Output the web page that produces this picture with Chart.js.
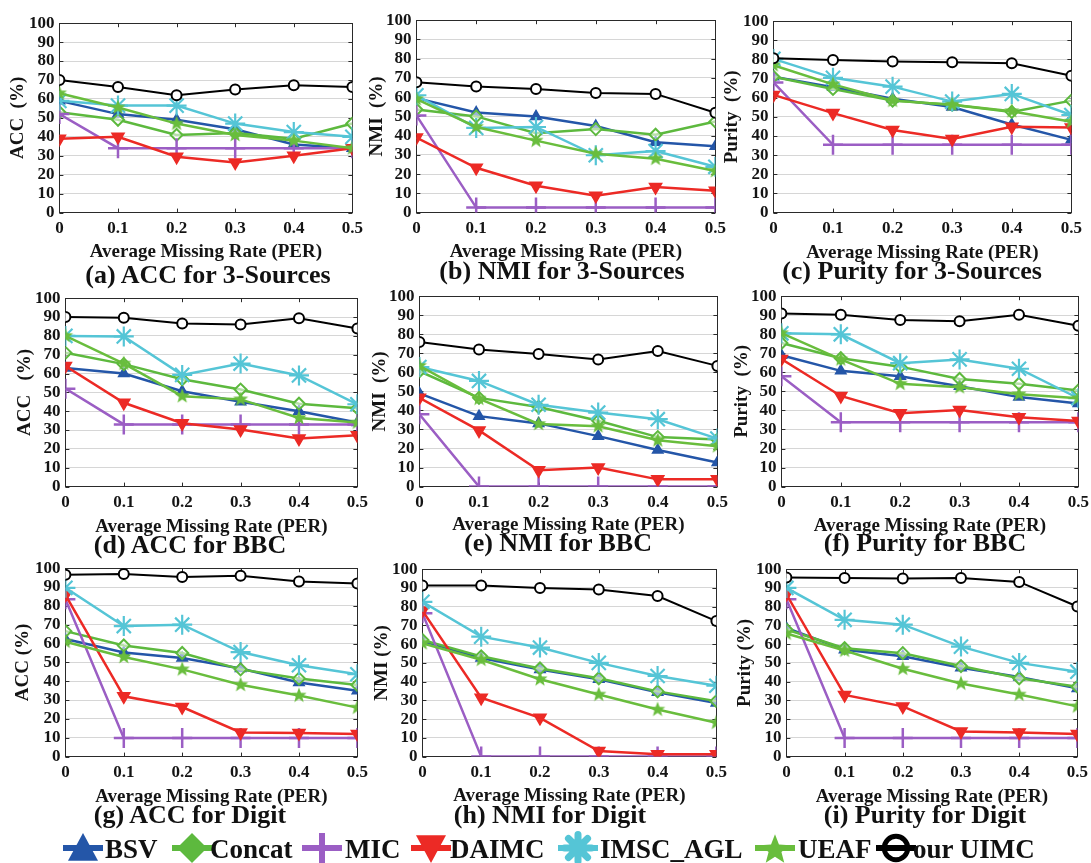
<!DOCTYPE html>
<html><head><meta charset="utf-8">
<script src="https://cdn.jsdelivr.net/npm/chart.js@4.4.1/dist/chart.umd.min.js"></script>
<style>
html,body{margin:0;padding:0;background:#fff;}
body{width:1091px;height:863px;overflow:hidden;position:relative;font-family:"Liberation Serif","Times New Roman",serif;}
canvas.cv{position:absolute;}
.cap{position:absolute;font-weight:bold;font-size:26px;transform:translate(-50%,-50%);white-space:nowrap;color:#111;line-height:1;}
.lg-ic{position:absolute;}
.lg-tx{position:absolute;font-weight:bold;font-size:27px;line-height:1;color:#111;white-space:nowrap;}
</style></head><body>
<script>
// ---------------- DATA ----------------
const rates = [0, 0.1, 0.2, 0.3, 0.4, 0.5];
const xTickLabels = ['0', '0.1', '0.2', '0.3', '0.4', '0.5'];
const methods = ['BSV', 'Concat', 'MIC', 'DAIMC', 'IMSC_AGL', 'UEAF', 'our UIMC'];

// rows in method order: BSV, Concat, MIC, DAIMC, IMSC_AGL, UEAF, our UIMC
const acc_3Sources = [
  [59, 52, 49, 44, 36, 34],
  [53, 49, 41, 42, 39, 47],
  [52, 34, 34, 34, 34, 34],
  [39, 40, 29.5, 26.5, 30, 34],
  [59, 56.5, 56.5, 47, 42.5, 40],
  [63, 55.5, 47, 41, 38, 34],
  [70, 66.3, 62, 65, 67.3, 66.3]
];
const nmi_3Sources = [
  [59.5, 52, 50, 45, 36.6, 34.5],
  [53.6, 50, 41.3, 43.4, 40.5, 47.3],
  [50.5, 2.6, 2.6, 2.6, 2.6, 2.6],
  [39, 23.3, 14, 8.8, 13.3, 11.4],
  [61, 44, 44.5, 29.8, 32, 23.8],
  [59, 44.5, 37.4, 30.6, 28, 21.6],
  [67.7, 65.5, 64.3, 62.2, 61.7, 51.9]
];
const purity_3Sources = [
  [71, 65.5, 59.5, 55.2, 46, 38],
  [71, 64.6, 58.5, 56.4, 52.6, 58.5],
  [68, 35.4, 35.4, 35.4, 35.4, 35.4],
  [61.5, 52, 43.2, 38.5, 44.8, 44.4],
  [80.3, 70.4, 65.8, 58, 62, 51],
  [77, 67, 58.5, 56.4, 53, 47.5],
  [80.7, 79.7, 79, 78.6, 78, 71.5]
];
const acc_BBC = [
  [63, 60, 50.6, 45, 40, 34],
  [71, 65, 57, 51.5, 44, 41.6],
  [52, 33, 33, 33, 33, 33],
  [64, 44.5, 33.6, 30.3, 25.5, 27.2],
  [80, 79.7, 59.3, 65.3, 59, 43.7],
  [80, 65.3, 48, 46.3, 36.4, 34],
  [90, 89.6, 86.6, 86, 89.4, 83.9]
];
const nmi_BBC = [
  [49, 37, 33.2, 26.5, 19.2, 12.7],
  [60.6, 46.6, 41.8, 34.6, 26, 24.7],
  [38, 0, 0, 0, 0, 0],
  [46.6, 29.5, 8.6, 10, 3.8, 3.8],
  [62.8, 55.5, 43, 38.9, 35.4, 25.2],
  [63.4, 46.2, 32.9, 31.7, 24.3, 21.2],
  [76, 72, 69.7, 66.8, 71.2, 63.4]
];
const purity_BBC = [
  [69, 60.8, 57.9, 52.7, 47, 43.6],
  [75.4, 67.4, 63, 56.5, 54, 50.5],
  [58, 33.8, 33.8, 33.8, 33.8, 33.8],
  [67, 47.6, 38.5, 40.2, 36.4, 34.4],
  [80.5, 80, 64.8, 66.8, 61.9, 46.4],
  [80.6, 66.8, 54, 52.2, 48.5, 46.4],
  [90.9, 90.2, 87.5, 86.8, 90.2, 84.5]
];
const acc_Digit = [
  [62.4, 55.3, 52.3, 46.8, 39.3, 35],
  [66.6, 59, 55, 46.3, 41.4, 38],
  [83.5, 9.9, 9.9, 9.9, 9.9, 9.9],
  [85.8, 32, 26.3, 12.8, 12.5, 12],
  [89.6, 69.3, 70, 55.5, 48.5, 43.7],
  [61, 52.9, 46.3, 38.1, 32.4, 26],
  [96.5, 96.9, 95.3, 96, 92.9, 91.9]
];
const nmi_Digit = [
  [61.7, 52.6, 46.5, 41.3, 34.3, 28.6],
  [62.2, 53.5, 47, 41.8, 34.8, 29.6],
  [76.5, 0, 0, 0, 0, 0],
  [77.9, 31.4, 20.7, 3, 1.2, 1.2],
  [82.6, 64, 58.2, 50, 43, 37.8],
  [60.5, 51.7, 41.3, 33.1, 25.1, 18.1],
  [91.3, 91.3, 90, 89.2, 85.7, 72.3]
];
const purity_Digit = [
  [68.6, 57, 53.5, 47.4, 42.5, 36.4],
  [67.8, 57.8, 55.2, 48.3, 41.8, 37.3],
  [84, 9.9, 9.9, 9.9, 9.9, 9.9],
  [86.6, 32.9, 26.8, 13.4, 12.9, 12],
  [90, 73, 70.4, 58.7, 50, 45.3],
  [65.7, 56.6, 46.9, 39, 33.1, 26.8],
  [95.6, 95.3, 95.1, 95.3, 93.2, 80.1]
];

// ---------------- STYLE ----------------
const FONT = '"Liberation Serif","Times New Roman",serif';
const TXT = '#141414';
const colors = ['#2456a8', '#5db93e', '#9b5ec4', '#ec2a25', '#55c5d6', '#69bd3d', '#000000'];

function starCanvas(r, color) {
  const s = Math.ceil(2 * r + 2);
  const c = document.createElement('canvas');
  c.width = s; c.height = s;
  const g = c.getContext('2d');
  g.beginPath();
  for (let k = 0; k < 10; k++) {
    const rr = (k % 2) ? r * 0.42 : r;
    const a = -Math.PI / 2 + k * Math.PI / 5;
    g.lineTo(s / 2 + rr * Math.cos(a), s / 2 + rr * Math.sin(a));
  }
  g.closePath();
  g.fillStyle = color; g.fill();
  return c;
}
const ueafStar = starCanvas(8, colors[5]);

const dsStyle = [
  {pointStyle: 'triangle', pointRadius: 6, pointBackgroundColor: colors[0], pointBorderWidth: 1.5, borderWidth: 2.5},
  {pointStyle: 'rectRot', pointRadius: 6, pointBackgroundColor: 'rgba(255,255,255,0.55)', pointBorderWidth: 2, borderWidth: 2.5},
  {pointStyle: 'cross', pointRadius: 10, pointBackgroundColor: colors[2], pointBorderWidth: 2.5, borderWidth: 2.5},
  {pointStyle: 'triangle', pointRotation: 180, pointRadius: 7, pointBackgroundColor: colors[3], pointBorderWidth: 1.5, borderWidth: 2.5},
  {pointStyle: 'star', pointRadius: 10, pointBackgroundColor: colors[4], pointBorderWidth: 2.2, borderWidth: 2.5},
  {pointStyle: ueafStar, pointRadius: 8, pointBackgroundColor: colors[5], pointBorderWidth: 0, borderWidth: 2.5},
  {pointStyle: 'circle', pointRadius: 5, pointBackgroundColor: '#ffffff', pointBorderWidth: 2, borderWidth: 2}
];

// ---------------- LAYOUT ----------------
const panels = [
  {data: acc_3Sources,    yt: 'ACC  (%)',    cap: '(a) ACC for 3-Sources',    L: 59,  T: 20,  R: 353,  B: 213, tx: 18,  xty: 252, cx: 208, cy: 275},
  {data: nmi_3Sources,    yt: 'NMI  (%)',    cap: '(b) NMI for 3-Sources',    L: 416, T: 17,  R: 716,  B: 213, tx: 377, xty: 252, cx: 562, cy: 271},
  {data: purity_3Sources, yt: 'Purity  (%)', cap: '(c) Purity for 3-Sources', L: 773, T: 18,  R: 1072, B: 213, tx: 732, xty: 253, cx: 912, cy: 271},
  {data: acc_BBC,         yt: 'ACC   (%)',   cap: '(d) ACC for BBC',          L: 65,  T: 295, R: 358,  B: 487, tx: 25,  xty: 527, cx: 190, cy: 545},
  {data: nmi_BBC,         yt: 'NMI  (%)',    cap: '(e) NMI for BBC',          L: 419, T: 293, R: 718,  B: 487, tx: 380, xty: 525, cx: 558, cy: 543},
  {data: purity_BBC,      yt: 'Purity  (%)', cap: '(f) Purity for BBC',       L: 781, T: 293, R: 1079, B: 487, tx: 742, xty: 526, cx: 925, cy: 543},
  {data: acc_Digit,       yt: 'ACC (%)',     cap: '(g) ACC for Digit',        L: 65,  T: 565, R: 358,  B: 757, tx: 23,  xty: 797, cx: 190, cy: 815},
  {data: nmi_Digit,       yt: 'NMI (%)',     cap: '(h) NMI for Digit',        L: 422, T: 566, R: 717,  B: 757, tx: 382, xty: 796, cx: 550, cy: 815},
  {data: purity_Digit,    yt: 'Purity (%)',  cap: '(i) Purity for Digit',     L: 786, T: 566, R: 1078, B: 757, tx: 745, xty: 797, cx: 925, cy: 815}
];

const boxPlugin = {
  id: 'matlabBox',
  beforeDatasetsDraw(chart) {
    const {ctx, chartArea: a, scales} = chart;
    ctx.save();
    ctx.strokeStyle = '#2a2a2a';
    ctx.lineWidth = 1;
    ctx.strokeRect(Math.round(a.left) + 0.5, Math.round(a.top) + 0.5, Math.round(a.right - a.left), Math.round(a.bottom - a.top));
    ctx.beginPath();
    const tl = 4;
    scales.x.ticks.forEach(t => {
      const x = Math.round(scales.x.getPixelForValue(t.value)) + 0.5;
      ctx.moveTo(x, a.bottom); ctx.lineTo(x, a.bottom - tl);
      ctx.moveTo(x, a.top); ctx.lineTo(x, a.top + tl);
    });
    scales.y.ticks.forEach(t => {
      const y = Math.round(scales.y.getPixelForValue(t.value)) + 0.5;
      ctx.moveTo(a.left, y); ctx.lineTo(a.left + tl, y);
      ctx.moveTo(a.right, y); ctx.lineTo(a.right - tl, y);
    });
    ctx.stroke();
    ctx.restore();
  }
};

const TFS = 19, TLH = TFS * 1.2;

panels.forEach((p) => {
  const padTop = 12, padRight = 16;
  const yW = p.L - (p.tx - TLH / 2);
  const xH = (p.xty - p.B) + TLH / 2;
  const w = Math.round(yW + (p.R - p.L) + padRight);
  const h = Math.round(padTop + (p.B - p.T) + xH);
  const cv = document.createElement('canvas');
  cv.className = 'cv';
  cv.width = w; cv.height = h;
  cv.style.left = (p.L - yW) + 'px';
  cv.style.top = (p.T - padTop) + 'px';
  cv.style.width = w + 'px'; cv.style.height = h + 'px';
  document.body.appendChild(cv);

  const datasets = methods.map((m, i) => Object.assign({
    label: m,
    data: p.data[i].map((v, j) => ({x: rates[j], y: v})),
    borderColor: colors[i],
    pointBorderColor: colors[i],
    backgroundColor: colors[i],
    tension: 0,
    fill: false,
    order: 6 - i
  }, dsStyle[i]));

  new Chart(cv.getContext('2d'), {
    type: 'line',
    data: {datasets},
    options: {
      responsive: false, animation: false, devicePixelRatio: 1,
      layout: {padding: {top: padTop, right: padRight, left: 0, bottom: 0}},
      plugins: {legend: {display: false}, tooltip: {enabled: false}, title: {display: false}},
      scales: {
        x: {
          type: 'linear', min: 0, max: 0.5,
          afterFit(s) { s.height = xH; },
          afterBuildTicks(s) { s.ticks = rates.map(v => ({value: v})); },
          ticks: {
            autoSkip: false, maxRotation: 0, padding: 6,
            color: TXT, font: {family: FONT, size: 17, weight: 'bold'},
            callback: (v, i) => xTickLabels[i]
          },
          grid: {display: false, drawTicks: false},
          border: {display: false},
          title: {display: true, text: 'Average Missing Rate (PER)', color: TXT, padding: 0,
                  font: {family: FONT, size: TFS, weight: 'bold'}}
        },
        y: {
          min: 0, max: 100,
          afterFit(s) { s.width = yW; },
          ticks: {stepSize: 10, autoSkip: false, padding: 5, color: TXT, font: {family: FONT, size: 17, weight: 'bold'}},
          grid: {color: '#d6d6d6', lineWidth: 1, drawTicks: false},
          border: {display: false},
          title: {display: true, text: p.yt, color: TXT, padding: 0,
                  font: {family: FONT, size: TFS, weight: 'bold'}}
        }
      }
    },
    plugins: [boxPlugin]
  });

  const c = document.createElement('div');
  c.className = 'cap';
  c.textContent = p.cap;
  c.style.left = p.cx + 'px'; c.style.top = p.cy + 'px';
  document.body.appendChild(c);
});

// ---------------- LEGEND ----------------
const legendPos = [
  {ix: 63, tx: 105}, {ix: 172, tx: 210}, {ix: 302, tx: 345}, {ix: 411, tx: 450},
  {ix: 558, tx: 600}, {ix: 755, tx: 798}, {ix: 876, tx: 913}
];
const LCY = 848;
function drawIcon(g, i, W, H) {
  const cx = W / 2, cy = H / 2, col = colors[i];
  g.strokeStyle = col; g.fillStyle = col; g.lineWidth = 6;
  g.beginPath(); g.moveTo(0, cy); g.lineTo(W, cy); g.stroke();
  g.beginPath();
  const r = 15;
  if (i === 0) { // triangle up
    g.moveTo(cx, cy - r); g.lineTo(cx + r, cy + r * 0.85); g.lineTo(cx - r, cy + r * 0.85); g.closePath(); g.fill();
  } else if (i === 1) { // diamond
    g.moveTo(cx, cy - r); g.lineTo(cx + r, cy); g.lineTo(cx, cy + r); g.lineTo(cx - r, cy); g.closePath(); g.fill();
  } else if (i === 2) { // plus
    g.lineWidth = 6; g.moveTo(cx, cy - r); g.lineTo(cx, cy + r); g.stroke();
  } else if (i === 3) { // triangle down
    g.moveTo(cx - r, cy - r * 0.85); g.lineTo(cx + r, cy - r * 0.85); g.lineTo(cx, cy + r); g.closePath(); g.fill();
  } else if (i === 4) { // asterisk blob
    g.lineWidth = 7; g.lineCap = 'round';
    for (let k = 0; k < 4; k++) {
      const a = k * Math.PI / 4;
      g.moveTo(cx - r * 0.9 * Math.cos(a), cy - r * 0.9 * Math.sin(a));
      g.lineTo(cx + r * 0.9 * Math.cos(a), cy + r * 0.9 * Math.sin(a));
    }
    g.stroke();
  } else if (i === 5) { // pentagram
    for (let k = 0; k < 10; k++) {
      const rr = (k % 2) ? r * 0.45 : r * 1.05;
      const a = -Math.PI / 2 + k * Math.PI / 5;
      g.lineTo(cx + rr * Math.cos(a), cy + 2 + rr * Math.sin(a));
    }
    g.closePath(); g.fill();
  } else { // circle
    g.lineWidth = 5; g.arc(cx, cy, r * 0.78, 0, Math.PI * 2); g.stroke();
  }
}
methods.forEach((m, i) => {
  const lp = legendPos[i];
  const W = 40, H = 34;
  const ic = document.createElement('canvas');
  ic.className = 'lg-ic'; ic.width = W; ic.height = H;
  ic.style.left = lp.ix + 'px'; ic.style.top = (LCY - H / 2) + 'px';
  document.body.appendChild(ic);
  drawIcon(ic.getContext('2d'), i, W, H);
  const t = document.createElement('div');
  t.className = 'lg-tx'; t.textContent = m;
  t.style.left = lp.tx + 'px'; t.style.top = '836px';
  document.body.appendChild(t);
});
</script>
</body></html>
